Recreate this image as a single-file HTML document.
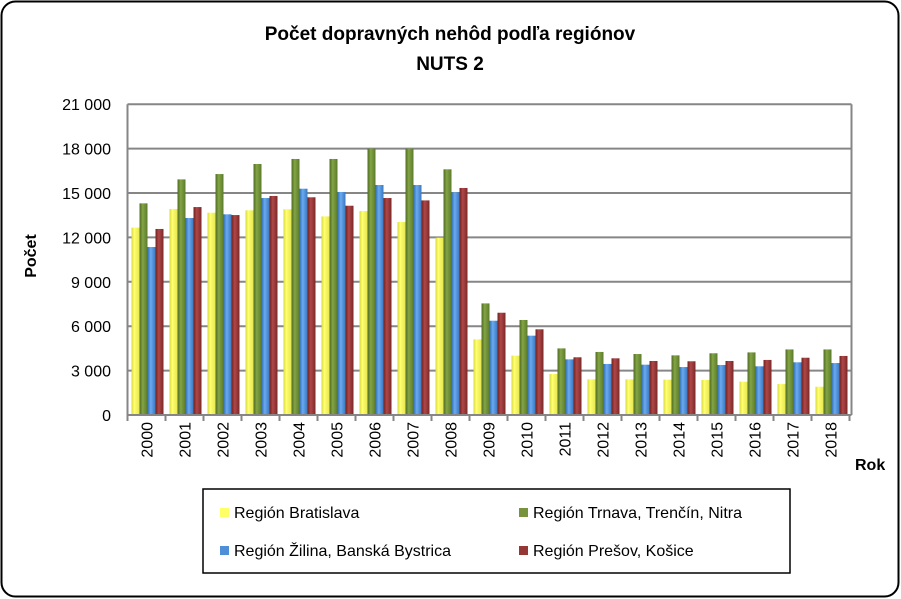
<!DOCTYPE html>
<html><head><meta charset="utf-8"><style>
body{margin:0;background:#fff;font-family:"Liberation Sans",Arial,sans-serif;}
svg{display:block}
</style></head><body>
<svg width="901" height="599" xmlns="http://www.w3.org/2000/svg">
<defs>
<linearGradient id="gy" x1="0" x2="1"><stop offset="0" stop-color="#d8d840"/><stop offset=".35" stop-color="#ffff70"/><stop offset="1" stop-color="#e6e650"/></linearGradient>
<linearGradient id="gg" x1="0" x2="1"><stop offset="0" stop-color="#4f6a22"/><stop offset=".4" stop-color="#84a446"/><stop offset="1" stop-color="#5a7a2a"/></linearGradient>
<linearGradient id="gb" x1="0" x2="1"><stop offset="0" stop-color="#2f6cb0"/><stop offset=".4" stop-color="#6aaaf0"/><stop offset="1" stop-color="#3a78c0"/></linearGradient>
<linearGradient id="gr" x1="0" x2="1"><stop offset="0" stop-color="#6e2020"/><stop offset=".4" stop-color="#b04848"/><stop offset="1" stop-color="#7a2828"/></linearGradient>
</defs>
<rect x="1.5" y="1.5" width="897" height="595" rx="14" fill="#fff" stroke="#000" stroke-width="2"/>
<text x="450" y="40" text-anchor="middle" font-size="19" font-weight="bold">Počet dopravných nehôd podľa regiónov</text>
<text x="450" y="70" text-anchor="middle" font-size="19" font-weight="bold">NUTS 2</text>
<g id="grid"></g>
<g id="bars"></g>
<g id="axes"></g>
<text transform="translate(36,256) rotate(-90)" text-anchor="middle" font-size="16" font-weight="bold">Počet</text>
<text x="855" y="470" font-size="16" font-weight="bold">Rok</text>
<g>
<rect x="203" y="489" width="587" height="84" fill="#fff" stroke="#000" stroke-width="1.5"/>
<g><rect x="220" y="508" width="9" height="9" fill="#ffff66"/><text x="234" y="518" font-size="16">Región Bratislava</text></g>
<g><rect x="519" y="508" width="9" height="9" fill="#77933c"/><text x="533" y="518" font-size="16">Región Trnava, Trenčín, Nitra</text></g>
<g><rect x="220" y="546" width="9" height="9" fill="#4f8fd8"/><text x="234" y="556" font-size="16">Región Žilina, Banská Bystrica</text></g>
<g><rect x="519" y="546" width="9" height="9" fill="#953735"/><text x="533" y="556" font-size="16">Región Prešov, Košice</text></g>
</g>
</svg>
<script>
const years=["2000","2001","2002","2003","2004","2005","2006","2007","2008","2009","2010","2011","2012","2013","2014","2015","2016","2017","2018"];
const bratislava=[12660,13920,13670,13830,13900,13420,13780,13040,11980,5110,4010,2770,2410,2410,2390,2370,2250,2090,1910];
const trnava=[14300,15920,16280,16960,17300,17300,18000,18000,16600,7540,6420,4500,4260,4120,4030,4170,4230,4430,4430];
const zilina=[11350,13310,13560,14660,15290,15070,15540,15540,15050,6370,5360,3760,3450,3400,3240,3380,3290,3560,3510];
const presov=[12570,14050,13510,14800,14710,14140,14660,14500,15340,6910,5790,3900,3830,3650,3630,3650,3720,3870,3990];
const yTicks=[0,3000,6000,9000,12000,15000,18000,21000];
const yTickLabels=["0","3 000","6 000","9 000","12 000","15 000","18 000","21 000"];
const NS="http://www.w3.org/2000/svg";
const X0=127.5,GW=38,Y0=415,PXPER=14.8/1000;
function yS(v){return Y0-v*PXPER;}
function xG(i){return X0+i*GW;}
function mk(t,a,p){const e=document.createElementNS(NS,t);for(const k in a)e.setAttribute(k,a[k]);p.appendChild(e);return e;}
const grid=document.getElementById('grid'),bars=document.getElementById('bars'),axes=document.getElementById('axes');
const right=xG(years.length)+2;
yTicks.forEach((v,i)=>{
  const l=mk('line',{x1:X0,x2:right,y1:yS(v),y2:yS(v),stroke:'#868686','stroke-width':2},grid);
  
  
  const t=mk('text',{x:111,y:yS(v)+6,'text-anchor':'end','font-size':16},axes);
  t.textContent=yTickLabels[i];
  
  
});
const b=mk('line',{x1:right,x2:right,y1:yS(21000),y2:Y0,stroke:'#868686','stroke-width':2},grid);


const series=[[bratislava,'url(#gy)','bratislava'],[trnava,'url(#gg)','trnava'],[zilina,'url(#gb)','zilina'],[presov,'url(#gr)','presov']];
years.forEach((yr,i)=>{
  series.forEach((s,j)=>{
    const v=s[0][i];
    const r=mk('rect',{x:xG(i)+4+j*8,y:yS(v),width:8,height:Y0-yS(v),fill:s[1]},bars);
    
    
  });
  const tk=mk('line',{x1:xG(i),x2:xG(i),y1:Y0,y2:Y0+6,stroke:'#868686','stroke-width':2},axes);
  
  
  const cx=xG(i)+GW/2+6;
  const t=mk('text',{transform:'translate('+cx+',422) rotate(-90)','text-anchor':'end','font-size':16},axes);
  t.textContent=yr;
  
  
});
const lt=mk('line',{x1:xG(years.length),x2:xG(years.length),y1:Y0,y2:Y0+6,stroke:'#868686','stroke-width':2},axes);


const ax=mk('line',{x1:X0,x2:X0,y1:yS(21000),y2:Y0+1,stroke:'#868686','stroke-width':2},axes);


const bx=mk('line',{x1:X0,x2:right,y1:Y0,y2:Y0,stroke:'#868686','stroke-width':2},axes);


</script>
</body></html>
